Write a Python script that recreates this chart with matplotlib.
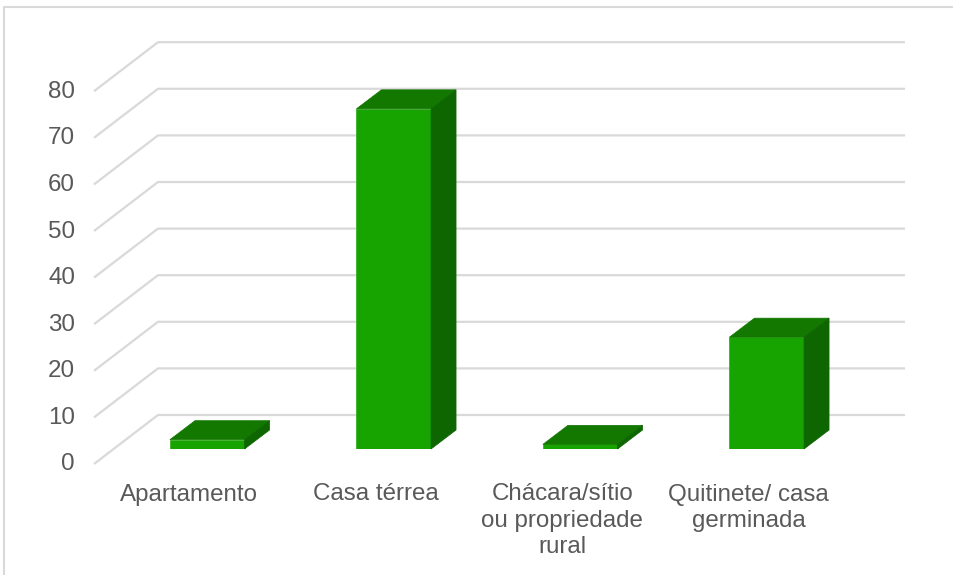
import matplotlib
matplotlib.use('Agg')
import matplotlib.pyplot as plt
from matplotlib.patches import Polygon

plt.rcParams['font.family'] = ['Liberation Sans', 'DejaVu Sans']

# data
categorias = ['Apartamento', 'Casa térrea', 'Chácara/sítio\nou propriedade\nrural', 'Quitinete/ casa\ngerminada']
valores = [2, 73, 1, 24]
ticks = [0, 10, 20, 30, 40, 50, 60, 70, 80]

W, H = 954, 575
fig = plt.figure(figsize=(W / 100, H / 100), dpi=100)

# axes = plano da frente das barras, em pixels da imagem
left, right, bottom, top = 114, 860, 449, 76.2
ax = fig.add_axes([left / W, 1 - bottom / H, (right - left) / W, (bottom - top) / H])
ax.set_xlim(-0.5, 3.5)
ax.set_ylim(0, 80)
ax.axis('off')

px_x = 4 / (right - left)   # 1 px in category units
px_y = 80 / (bottom - top)  # 1 px in value units

# gridlines: front end, back corner, right end
for t in ticks:
    xs = [-0.5 - 20 * px_x, -0.5 + 44 * px_x, -0.5 + 791 * px_x]
    ys = [t - 15 * px_y, t + 34 * px_y, t + 34 * px_y]
    ax.plot(xs, ys, color='#d9d9d9', lw=1.6, clip_on=False, zorder=1, solid_capstyle='butt')
    ax.annotate(str(t), xy=(-0.5, t), xytext=(-39 * 0.72, -15.5 * 0.72), textcoords='offset points',
                ha='right', va='center', fontsize=17.4, color='#595959', annotation_clip=False)

# barras
w = 0.2
dx = 25 * px_x
dy = 19 * px_y
for i, v in enumerate(valores):
    x0, x1 = i - w, i + w
    ax.add_patch(Polygon([(x0, 0), (x1, 0), (x1, v), (x0, v)], fc='#17a300', ec='#3fae2c', lw=0.6, zorder=3))
    ax.add_patch(Polygon([(x0, v), (x1, v), (x1 + dx, v + dy), (x0 + dx, v + dy)], fc='#127800', ec='#127800', lw=0.5, clip_on=False, zorder=3))
    ax.add_patch(Polygon([(x1, 0), (x1 + dx, dy), (x1 + dx, v + dy), (x1, v)], fc='#0e6600', ec='#0e6600', lw=0.5, clip_on=False, zorder=3))
    ax.annotate(categorias[i], xy=(i, 0), xytext=(-18 * 0.72, -34.5 * 0.72), textcoords='offset points',
                ha='center', va='top', fontsize=17.4, color='#595959', linespacing=1.26, annotation_clip=False)

# moldura
fig.add_artist(plt.Line2D([4.5 / W, 4.5 / W, 1], [0, 1 - 6.5 / H, 1 - 6.5 / H], color='#d9d9d9', lw=1.5))

fig.savefig('out.png', dpi=100)
